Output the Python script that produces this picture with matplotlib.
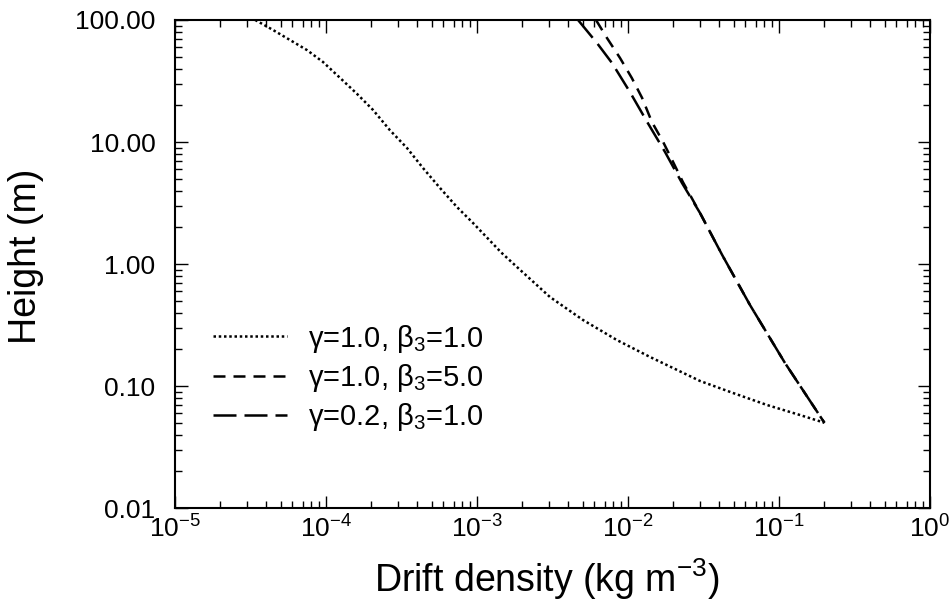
import matplotlib
matplotlib.use("Agg")
import matplotlib.pyplot as plt
from matplotlib.ticker import FuncFormatter, NullFormatter

# values (x: drift density kg m^-3, y: height m)
dot_x = [3.4e-5, 4.46e-5, 5.78e-5, 7.48e-5, 9.55e-5, 1.24e-4, 1.60e-4, 2.05e-4,
         2.65e-4, 3.44e-4, 4.39e-4, 5.69e-4, 7.37e-4, 9.41e-4, 1.18e-3, 1.45e-3,
         1.84e-3, 3.04e-3, 5.03e-3, 8.45e-3, 0.0140, 0.0300, 0.0496, 0.0833,
         0.138, 0.2]
dot_y = [100.0, 82.8, 68.5, 56.7, 45.3, 33.5, 24.9, 18.3, 12.5, 8.93, 6.12,
         4.20, 2.93, 2.17, 1.62, 1.24, 0.945, 0.537, 0.348, 0.238, 0.173,
         0.110, 0.0877, 0.0699, 0.0578, 0.05]

short_x = [6.14e-3, 7.26e-3, 8.85e-3, 0.0106, 0.0124, 0.0144, 0.0171, 0.0199,
           0.0231, 0.0300, 0.0420, 0.0643, 0.1096, 0.2]
short_y = [100.0, 71.2, 48.9, 33.5, 23.0, 14.6, 10.0, 6.86, 4.70, 2.62, 1.19,
           0.461, 0.1545, 0.05]

long_x = [4.67e-3, 6.23e-3, 7.84e-3, 0.0103, 0.0134, 0.0176, 0.0228, 0.0300,
          0.0420, 0.0643, 0.1096, 0.2]
long_y = [100.0, 64.8, 44.4, 25.7, 14.6, 8.28, 4.61, 2.62, 1.19, 0.461,
          0.1545, 0.05]

labels = [r"γ=1.0, β$_3$=1.0", r"γ=1.0, β$_3$=5.0", r"γ=0.2, β$_3$=1.0"]
y_ticks = [0.01, 0.1, 1.0, 10.0, 100.0]

plt.rcParams.update({
    "font.family": ["Liberation Sans", "DejaVu Sans"],
    "mathtext.fontset": "custom",
    "mathtext.rm": "Liberation Sans",
    "mathtext.it": "Liberation Sans",
    "mathtext.bf": "Liberation Sans",
    "mathtext.default": "regular",
})

fig = plt.figure(figsize=(9.5, 6.04), dpi=100)
ax = fig.add_axes([0.1842, 0.1589, 0.7947, 0.8080])

lw = 1.8
ax.plot(dot_x, dot_y, color="black", lw=lw, dashes=(1.0, 1.1), label=labels[0])
ax.plot(short_x, short_y, color="black", lw=lw, dashes=(4.8, 3.2), label=labels[1])
ax.plot(long_x, long_y, color="black", lw=lw, dashes=(9.2, 3.2), label=labels[2])

ax.set_xscale("log")
ax.set_yscale("log")
ax.set_xlim(1e-5, 1)
ax.set_ylim(0.01, 100)
ax.set_yticks(y_ticks)
ax.yaxis.set_major_formatter(FuncFormatter(lambda v, p: f"{v:.2f}"))
ax.yaxis.set_minor_formatter(NullFormatter())

for s in ax.spines.values():
    s.set_linewidth(1.5)
ax.tick_params(which="both", direction="in", top=True, right=True, width=1.0)
ax.tick_params(which="major", length=9, labelsize=19)
ax.tick_params(which="minor", length=5)
ax.tick_params(axis="x", which="major", pad=5)
ax.tick_params(axis="y", which="major", pad=14)

ax.set_xlabel(r"Drift density (kg m$^{-3}$)", fontsize=27)
ax.set_ylabel("Height (m)", fontsize=27)
ax.xaxis.set_label_coords(0.493, -0.100)
ax.yaxis.set_label_coords(-0.173, 0.515)

ax.legend(loc="upper left", bbox_to_anchor=(0.05, 0.38), frameon=False,
          fontsize=21, handlelength=2.55, handletextpad=0.7,
          labelspacing=0.25, borderpad=0, borderaxespad=0)

fig.savefig("out.png", dpi=100)
